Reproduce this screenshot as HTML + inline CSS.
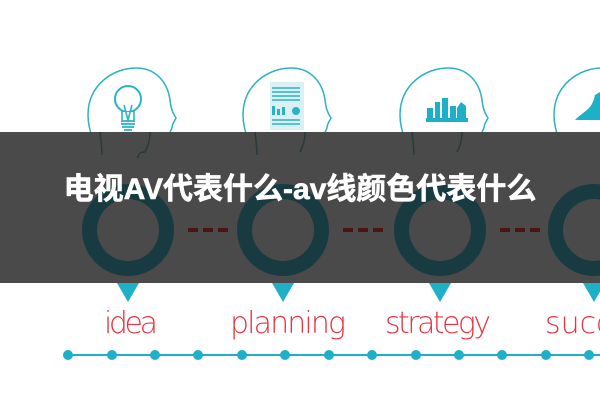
<!DOCTYPE html>
<html><head><meta charset="utf-8"><style>
body{margin:0;background:#fff;width:600px;height:400px;overflow:hidden;}
svg{display:block}
</style></head><body>
<svg width="600" height="400" viewBox="0 0 600 400" xmlns="http://www.w3.org/2000/svg">
<defs>
<g id="head">
<path d="M-28,48 C-30,35 -40,25 -40,5 C-40,-25 -15,-42 8,-42 C30,-42 40,-25 42,-10 C43,-2 44,2 48,8 C46,12 44,14 44,18 C42,22 40,26 40,32 C38,40 30,38 25,40 C22,44 22,48 22,52" fill="none" stroke="#2bb3c4" stroke-width="1.5"/>
</g>
<g id="node">
<circle r="46" fill="#173b41"/>
<circle r="31" fill="#4a4a4a"/>
</g>
</defs>
<use href="#head" x="128" y="110"/>
<use href="#head" x="283" y="110"/>
<use href="#head" x="440" y="110"/>
<use href="#head" x="594" y="110"/>
<circle cx="128" cy="99" r="13" fill="none" stroke="#2bb3c4" stroke-width="2"/>
<rect x="121" y="112" width="14" height="10" fill="#fff"/>
<path d="M122,110 L122,120 M134,110 L134,120 M124,105 L128,120 L132,105" stroke="#2bb3c4" stroke-width="1.6" fill="none"/>
<path d="M121,121 h14 M121,124 h14 M122,127 h12 M124,130 h8" stroke="#2bb3c4" stroke-width="1.8"/>
<rect x="270" y="82" width="34" height="48" fill="#d9f1f5"/>
<path d="M272,88 h28 M272,92 h28 M272,96 h28 M272,100 h28" stroke="#2bb3c4" stroke-width="1.5"/>
<path d="M272,115 v-9 h3 v9 M277,115 v-6 h3 v6 M282,115 v-8 h3 v8" fill="#2bb3c4"/>
<circle cx="296" cy="111" r="4" fill="#2bb3c4"/>
<path d="M272,120 h28 M272,124 h28" stroke="#2bb3c4" stroke-width="1.5"/>
<path d="M427,120 v-12 h6 v12 M435,120 v-18 h5 v18 M442,120 v-22 h6 v22 M450,120 v-14 h6 v14 M457,120 v-12 l4,-6 l5,4 v14" fill="#1db0c6"/>
<rect x="426" y="118" width="42" height="4" fill="#1db0c6"/>
<path d="M575,120 C585,110 592,110 595,95 L600,92 L600,120 Z" fill="#1db0c6"/>
<rect x="0" y="132" width="600" height="151" fill="#4a4a4a"/>
<g stroke="#2a3a3c" stroke-width="1.5" fill="none">
<path d="M100,132 C101,140 102,148 102,155 M150,132 C150,142 147,148 145,152 C140,152 138,154 138,158"/>
<path d="M255,132 C256,140 257,148 257,155 M305,132 C305,142 302,148 300,152"/>
<path d="M412,132 C413,140 414,148 414,155 M462,132 C462,142 459,148 457,152"/>
</g>
<use href="#node" x="128" y="230"/>
<use href="#node" x="283" y="230"/>
<use href="#node" x="440" y="230"/>
<use href="#node" x="594" y="230"/>
<g stroke="#4c1515" stroke-width="4">
<path d="M188,230 h10 M203,230 h10 M218,230 h10"/>
<path d="M343,230 h10 M358,230 h10 M373,230 h10"/>
<path d="M500,230 h10 M515,230 h10 M530,230 h10"/>
</g>
<rect x="0" y="283" width="600" height="20" fill="#fff"/>
<path d="M117,283 L128,302 L139,283 Z" fill="#1db0c6"/>
<path d="M272,283 L283,302 L294,283 Z" fill="#1db0c6"/>
<path d="M429,283 L440,302 L451,283 Z" fill="#1db0c6"/>
<path d="M583,283 L594,302 L605,283 Z" fill="#1db0c6"/>
<text x="300" y="199" text-anchor="middle" font-family="Liberation Sans, Noto Sans CJK SC, sans-serif" font-size="30" font-weight="bold" fill="#fff" stroke="#fff" stroke-width="0.6">电视AV代表什么-av线颜色代表什么</text>
<g font-family="DejaVu Sans, Liberation Sans, sans-serif" font-size="30" font-weight="200" fill="#e8343f">
<text x="104" y="333" textLength="54">idea</text>
<text x="230" y="333" textLength="116">planning</text>
<text x="385" y="333" textLength="106">strategy</text>
<text x="545" y="333">success</text>
</g>
<path d="M68,355 H600" stroke="#1db0c6" stroke-width="2"/>
<g fill="#1db0c6">
<circle cx="68" cy="355" r="5"/><circle cx="112" cy="355" r="5"/><circle cx="155" cy="355" r="5"/><circle cx="198" cy="355" r="5"/><circle cx="242" cy="355" r="5"/><circle cx="285" cy="355" r="5"/><circle cx="329" cy="355" r="5"/><circle cx="372" cy="355" r="5"/><circle cx="416" cy="355" r="5"/><circle cx="459" cy="355" r="5"/><circle cx="502" cy="355" r="5"/><circle cx="546" cy="355" r="5"/><circle cx="589" cy="355" r="5"/>
</g>
</svg>
</body></html>
